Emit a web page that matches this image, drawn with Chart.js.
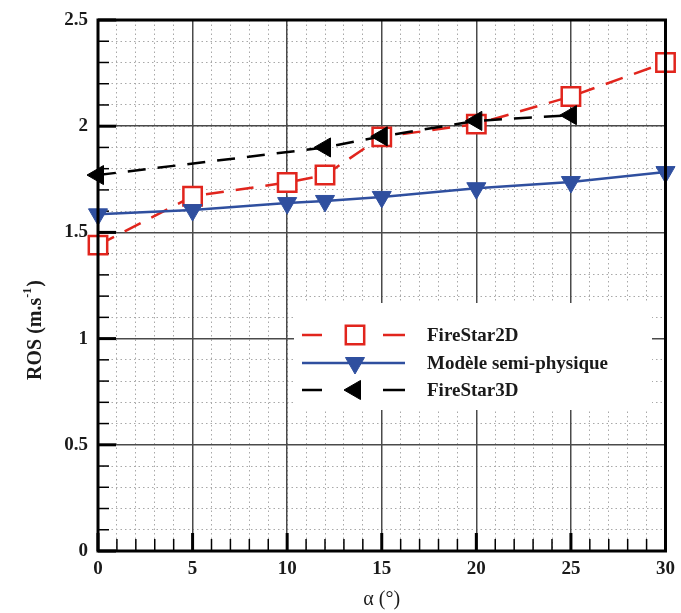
<!DOCTYPE html>
<html>
<head>
<meta charset="utf-8">
<script src="https://cdn.jsdelivr.net/npm/chart.js@4.4.1/dist/chart.umd.min.js"></script>
<style>
  html, body { margin: 0; padding: 0; background: #fff; }
</style>
</head>
<body>
<canvas id="chartRos" width="681" height="613"></canvas>
<script>
(function () {
    "use strict";

    // ---- data ----
    const alpha2D = [0, 5, 10, 12, 15, 20, 25, 30];
    const ros2D = [1.44, 1.67, 1.735, 1.77, 1.95, 2.01, 2.14, 2.30];

    const alphaSemi = [0, 5, 10, 12, 15, 20, 25, 30];
    const rosSemi = [1.585, 1.605, 1.638, 1.648, 1.667, 1.708, 1.737, 1.784];

    const alpha3D = [0, 12, 15, 20, 25];
    const ros3D = [1.77, 1.90, 1.952, 2.025, 2.052];

    const seriesLabels = ["FireStar2D", "Modèle semi-physique", "FireStar3D"];
    const xTicks = [0, 5, 10, 15, 20, 25, 30];
    const yTicks = [0, 0.5, 1, 1.5, 2, 2.5];

    const RED = "#e1251d";
    const BLUE = "#2f4f9f";
    const BLACK = "#000000";
    const SERIF = "'Liberation Serif', 'Times New Roman', serif";

    const pts = (xs, ys) => xs.map((x, i) => ({ x, y: ys[i] }));

    /* ---------------- custom drawing: frame, inward ticks, legend, y title ---------------- */
    function marker(ctx, style, x, y, color, fill) {
        ctx.save();
        ctx.fillStyle = fill;
        ctx.strokeStyle = color;
        const opts = { pointStyle: style.pointStyle, radius: style.radius, rotation: style.rotation || 0, borderWidth: style.borderWidth };
        if (window.Chart && Chart.helpers && Chart.helpers.drawPoint) {
            ctx.lineWidth = style.borderWidth;
            Chart.helpers.drawPoint(ctx, opts, x, y);
        }
        ctx.restore();
    }

    const decor = {
        id: "decor",
        beforeDatasetsDraw(chart) {
            const { ctx, chartArea: a, scales } = chart;

            // inward tick marks, bottom and left
            ctx.save();
            ctx.strokeStyle = "#000";
            scales.xMinor.ticks.forEach(t => {
                const px = scales.xMinor.getPixelForValue(t.value);
                const major = Math.abs(t.value % 5) < 1e-6;
                ctx.lineWidth = major ? 3 : 1.5;
                ctx.beginPath();
                ctx.moveTo(px, a.bottom);
                ctx.lineTo(px, a.bottom - (major ? 18 : 12));
                ctx.stroke();
            });
            scales.yMinor.ticks.forEach(t => {
                const py = scales.yMinor.getPixelForValue(t.value);
                const major = Math.abs((t.value * 10) % 5) < 1e-6;
                ctx.lineWidth = major ? 3 : 1.5;
                ctx.beginPath();
                ctx.moveTo(a.left, py);
                ctx.lineTo(a.left + (major ? 18 : 11), py);
                ctx.stroke();
            });
            ctx.restore();

            // legend (inside plot, white background)
            const box = { x: 294, y: 303, w: 358, h: 107 };
            ctx.save();
            ctx.fillStyle = "#fff";
            ctx.fillRect(box.x, box.y, box.w, box.h);

            const rowsY = [335, 363, 390];
            const x0 = 302, x1 = 405, xm = 355;
            chart.data.datasets.forEach(ds => {
                const idx = seriesLabels.indexOf(ds.label);
                const y = rowsY[idx];
                ctx.strokeStyle = ds.borderColor;
                ctx.lineWidth = ds.borderWidth;
                ctx.setLineDash([]);
                ctx.beginPath();
                if (ds.borderDash && ds.borderDash.length) {
                    ctx.moveTo(x0, y); ctx.lineTo(x0 + 20, y);
                    ctx.moveTo(x1 - 22, y); ctx.lineTo(x1, y);
                } else {
                    ctx.moveTo(x0, y); ctx.lineTo(x1, y);
                }
                ctx.stroke();
                marker(ctx, {
                    pointStyle: ds.pointStyle,
                    radius: ds.pointRadius,
                    rotation: ds.pointRotation,
                    borderWidth: ds.pointBorderWidth
                }, xm, y, ds.pointBorderColor, ds.pointBackgroundColor);

                ctx.fillStyle = "#1a1a1a";
                ctx.font = "bold 19px " + SERIF;
                ctx.textBaseline = "middle";
                ctx.textAlign = "left";
                ctx.fillText(ds.label, 427, y + 1);
            });
            ctx.restore();
        },
        afterDatasetsDraw(chart) {
            const { ctx, chartArea: a } = chart;
            ctx.save();
            ctx.strokeStyle = "#000";
            ctx.lineWidth = 3;
            ctx.strokeRect(a.left, a.top, a.right - a.left, a.bottom - a.top);
            ctx.restore();

            // y axis title with superscript
            ctx.save();
            ctx.translate(36, 330);
            ctx.rotate(-Math.PI / 2);
            ctx.fillStyle = "#1a1a1a";
            ctx.textBaseline = "middle";
            ctx.textAlign = "left";
            const main = "ROS (m.s", sup = "-1", close = ")";
            const fMain = "bold 20px " + SERIF, fSup = "bold 12px " + SERIF;
            ctx.font = fMain;
            const w1 = ctx.measureText(main).width, w3 = ctx.measureText(close).width;
            ctx.font = fSup;
            const w2 = ctx.measureText(sup).width;
            let x = -(w1 + w2 + w3 + 1) / 2;
            ctx.font = fMain; ctx.fillText(main, x, 0); x += w1;
            ctx.font = fSup; ctx.fillText(sup, x, -8); x += w2 + 1;
            ctx.font = fMain; ctx.fillText(close, x, 0);
            ctx.restore();
        }
    };

    /* ---------------- chart ---------------- */
    const tickFont = { family: SERIF, size: 19, weight: "bold" };

    new Chart(document.getElementById("chartRos").getContext("2d"), {
        type: "line",
        data: {
            datasets: [
                {
                    label: seriesLabels[0],
                    data: pts(alpha2D, ros2D),
                    borderColor: RED,
                    borderWidth: 2.5,
                    borderDash: [18, 12],
                    pointStyle: "rect",
                    pointRadius: 13,
                    pointBorderWidth: 2.5,
                    pointBorderColor: RED,
                    pointBackgroundColor: "#ffffff",
                    clip: false,
                    order: 3
                },
                {
                    label: seriesLabels[1],
                    data: pts(alphaSemi, rosSemi),
                    borderColor: BLUE,
                    borderWidth: 2.5,
                    borderDash: [],
                    pointStyle: "triangle",
                    pointRotation: 180,
                    pointRadius: 11,
                    pointBorderWidth: 1,
                    pointBorderColor: BLUE,
                    pointBackgroundColor: BLUE,
                    clip: false,
                    order: 2
                },
                {
                    label: seriesLabels[2],
                    data: pts(alpha3D, ros3D),
                    borderColor: BLACK,
                    borderWidth: 2.5,
                    borderDash: [18, 12],
                    pointStyle: "triangle",
                    pointRotation: -90,
                    pointRadius: 11,
                    pointBorderWidth: 1,
                    pointBorderColor: BLACK,
                    pointBackgroundColor: BLACK,
                    clip: false,
                    order: 1
                }
            ]
        },
        options: {
            responsive: false,
            animation: false,
            events: [],
            layout: { padding: { top: 20, right: 13, left: 0, bottom: 0 } },
            plugins: { legend: { display: false }, tooltip: { enabled: false } },
            elements: { line: { tension: 0 } },
            scales: {
                xMinor: {
                    type: "linear", position: "bottom", min: 0, max: 30,
                    ticks: { display: false, stepSize: 1 },
                    grid: { color: "#a8a8a8", lineWidth: 1, drawTicks: false },
                    border: { display: false, dash: [1.5, 3] }
                },
                yMinor: {
                    type: "linear", position: "left", min: 0, max: 2.5,
                    ticks: { display: false, stepSize: 0.1 },
                    grid: { color: "#a8a8a8", lineWidth: 1, drawTicks: false },
                    border: { display: false, dash: [1.5, 3] }
                },
                x: {
                    type: "linear", position: "bottom", min: 0, max: 30,
                    afterBuildTicks: s => { s.ticks = xTicks.map(v => ({ value: v })); },
                    ticks: { font: tickFont, color: "#1a1a1a", padding: 7, callback: v => String(v) },
                    grid: { color: "#4a4a4a", lineWidth: 1.5, drawTicks: false },
                    border: { display: false },
                    title: {
                        display: true, text: "α (°)", color: "#1a1a1a",
                        font: { family: SERIF, size: 20 }, padding: { top: 0, bottom: 1 }
                    },
                    afterFit: s => { s.height = 62; s.paddingLeft = 0; s.paddingRight = 0; }
                },
                y: {
                    type: "linear", position: "left", min: 0, max: 2.5,
                    afterBuildTicks: s => { s.ticks = yTicks.map(v => ({ value: v })); },
                    ticks: { font: tickFont, color: "#1a1a1a", padding: 10, callback: v => String(v) },
                    grid: { color: "#4a4a4a", lineWidth: 1.5, drawTicks: false },
                    border: { display: false },
                    afterFit: s => { s.width = 98; s.paddingTop = 0; s.paddingBottom = 0; }
                }
            }
        },
        plugins: [decor]
    });
})();
</script>
</body>
</html>
